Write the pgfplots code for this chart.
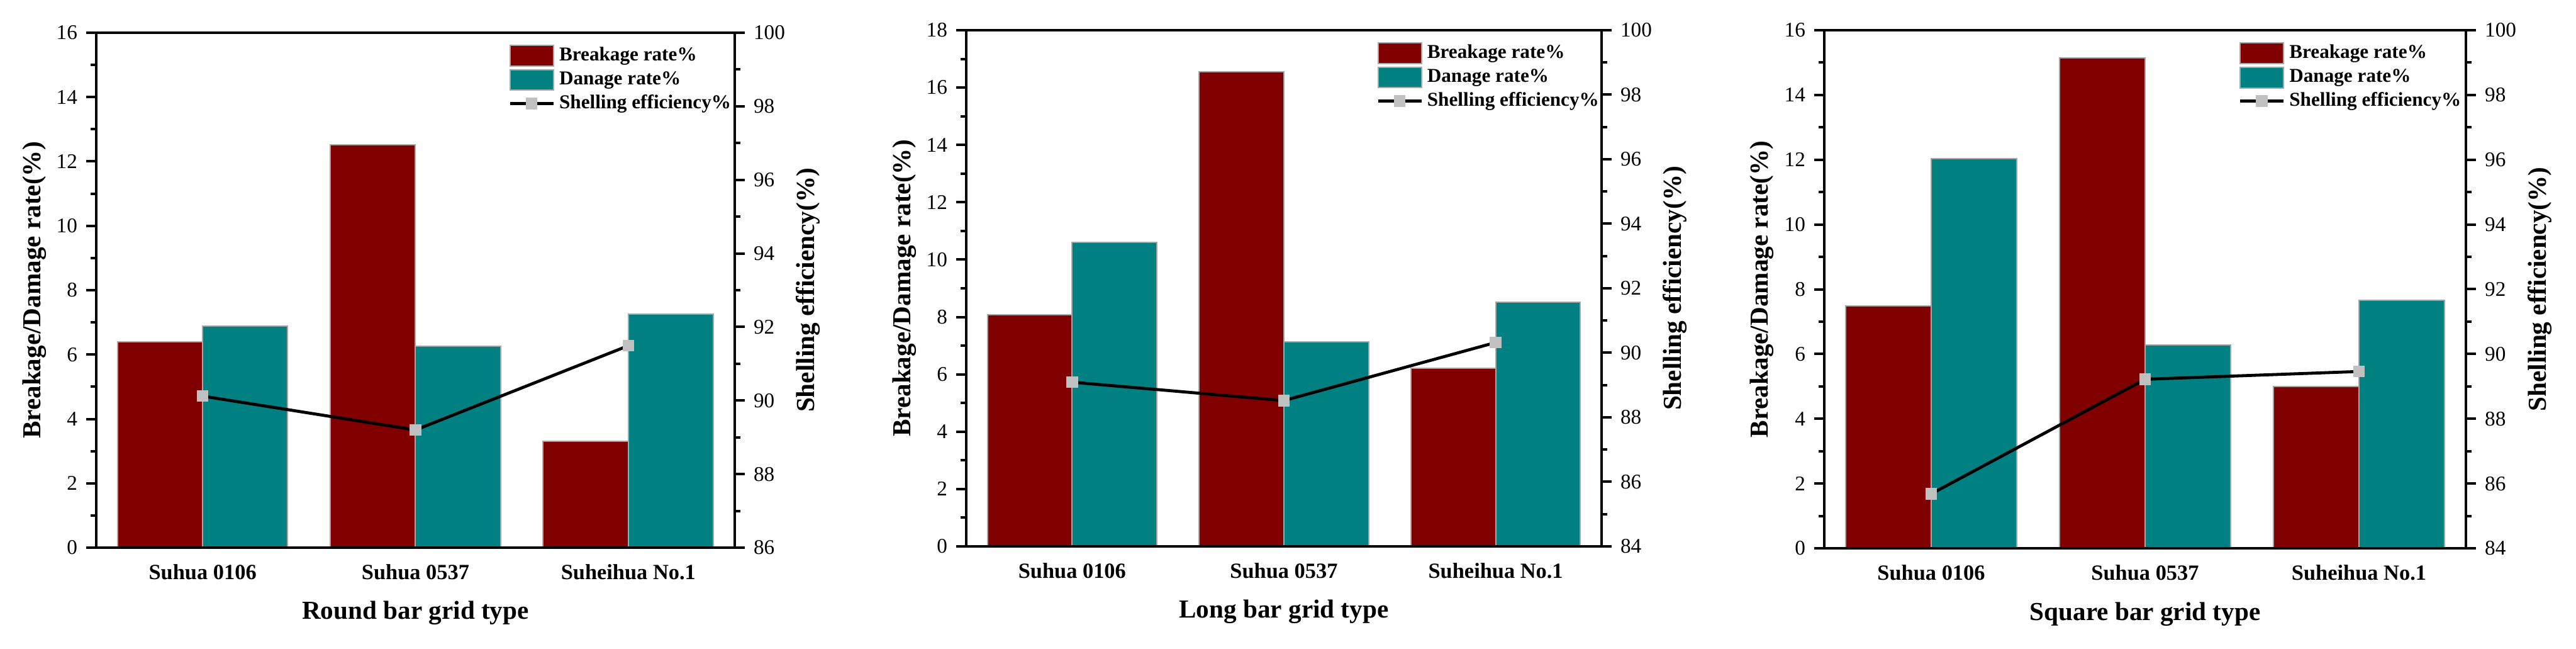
\documentclass[border=0pt]{standalone}
\usepackage{pgfplots}
\pgfplotsset{compat=1.18}
\usepackage{pgfplotstable}
\usepackage{fontspec}
\setmainfont{Liberation Serif}

\definecolor{brkred}{HTML}{800000}
\definecolor{dmgteal}{HTML}{008080}
\definecolor{mkgray}{HTML}{C0C0C0}

% x: category index, brk/dmg in %, eff = shelling efficiency %
\pgfplotstableread{
x brk dmg eff
0 6.40 6.89 90.12
1 12.51 6.25 89.20
2 3.30 7.25 91.49
}\roundtab
\pgfplotstableread{
x brk dmg eff
0 8.08 10.60 89.09
1 16.56 7.14 88.52
2 6.21 8.52 90.32
}\longtab
\pgfplotstableread{
x brk dmg eff
0 7.49 12.04 85.68
1 15.14 6.27 89.22
2 4.99 7.66 89.46
}\squaretab

\pgfplotsset{
  panel/.style={
    scale only axis, anchor=south west,
    xmin=-0.5, xmax=2.5,
    axis line style={line width=1pt},
    tick align=outside,
    major tick length=4pt, minor tick length=2.2pt,
    every tick/.style={black, line width=1pt},
    minor y tick num=1,
    ytick distance=2,
    /pgf/number format/assume math mode=true,
    yticklabel style={font=\fontsize{8.3}{10}\selectfont},
    label style={font=\bfseries\fontsize{10.3}{12}\selectfont},
  },
  barlegend/.style={legend image code/.code={\draw[##1] (0pt,-4.1pt) rectangle (17.25pt,4.1pt);}},
  linelegend/.style={legend image code/.code={\draw[##1, mark repeat=2, mark phase=2] plot coordinates {(0pt,0pt) (8.6pt,0pt) (17.25pt,0pt)};}},
}

\newcommand\drawpanel[8]{%
\begin{axis}[panel, at={(#1,#2)}, width=#3, height=#4, ymin=0, ymax=#6,
  ytick pos=left, xtick={0,1,2}, xticklabels={Suhua 0106,Suhua 0537,Suheihua No.1},
  major x tick style={draw=none},
  xticklabel style={font=\bfseries\fontsize{8.6}{10}\selectfont, yshift=1pt},
  xlabel={#8}, x label style={at={(axis description cs:0.5,-0.127)}, anchor=center},
  ylabel={Breakage/Damage rate(\%)}, y label style={at={(axis description cs:-0.097,0.5)}, anchor=center}]
\addplot[ybar, bar width=0.4, bar shift=-0.2, fill=brkred, draw=gray!70, line width=0.5pt] table[x=x,y=brk]{#5};
\addplot[ybar, bar width=0.4, bar shift=0.2, fill=dmgteal, draw=gray!70, line width=0.5pt] table[x=x,y=dmg]{#5};
\end{axis}
\begin{axis}[panel, at={(#1,#2)}, width=#3, height=#4, ymin=#7, ymax=100,
  ytick pos=right, xtick=\empty,
  ylabel={Shelling efficiency(\%)}, y label style={at={(axis description cs:1.115,0.5)}, anchor=center},
  legend cell align=left,
  legend style={at={(0.645,0.978)}, anchor=north west, draw=none, fill=none, inner sep=0pt,
    nodes={inner sep=0.5pt}, row sep=1pt, column sep=1.2pt,
    font=\bfseries\fontsize{7.8}{9}\selectfont}]
\addlegendimage{barlegend, fill=brkred, draw=gray!70, line width=0.5pt}
\addlegendentry{Breakage rate\%}
\addlegendimage{barlegend, fill=dmgteal, draw=gray!70, line width=0.5pt}
\addlegendentry{Danage rate\%}
\addplot[linelegend, black, line width=1.2pt, mark=square*, mark size=1.7pt,
  mark options={fill=mkgray, draw=mkgray}] table[x=x,y=eff]{#5};
\addlegendentry{Shelling efficiency\%}
\end{axis}}

\begin{document}
\begin{tikzpicture}
\path[use as bounding box] (0pt,0pt) rectangle (1023.75pt,257.5pt);
\drawpanel{38.25pt}{40pt}{253.75pt}{204.5pt}{\roundtab}{16}{86}{Round bar grid type}
\drawpanel{384pt}{40.5pt}{252.5pt}{205pt}{\longtab}{18}{84}{Long bar grid type}
\drawpanel{725pt}{39.75pt}{255pt}{205.75pt}{\squaretab}{16}{84}{Square bar grid type}
\end{tikzpicture}
\end{document}
